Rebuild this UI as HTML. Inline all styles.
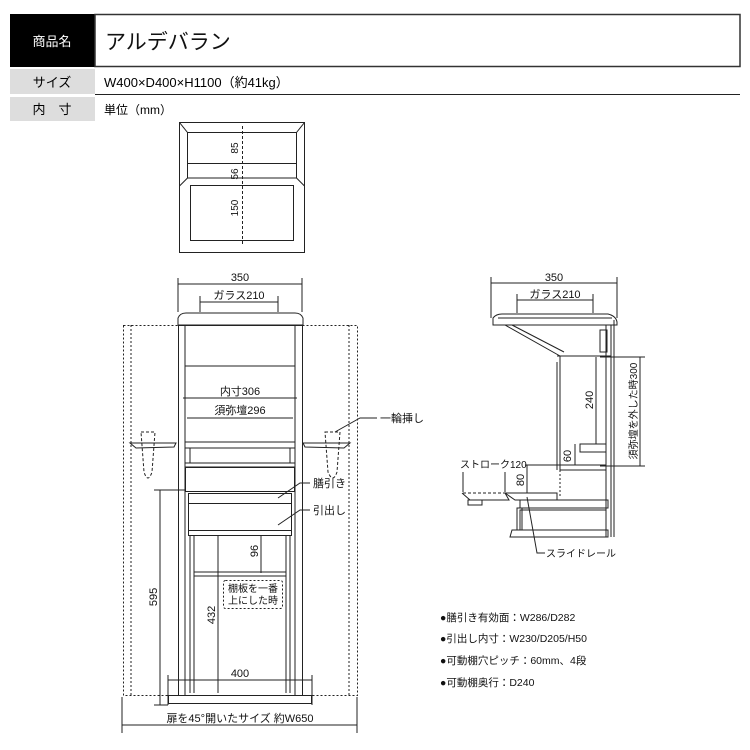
<!DOCTYPE html>
<html><head><meta charset="utf-8"><style>
html,body{margin:0;padding:0;background:#fff;}
svg{display:block;font-family:"Liberation Sans","Noto Sans CJK JP",sans-serif;}
</style></head><body>
<svg width="750" height="750" viewBox="0 0 750 750" xmlns="http://www.w3.org/2000/svg">
<!-- header -->
<rect x="10" y="14" width="85" height="53" fill="#000"/>
<rect x="95" y="14.5" width="645" height="52" fill="none" stroke="#333" stroke-width="1.5"/>
<text x="52" y="46" fill="#fff" font-size="13" text-anchor="middle">商品名</text>
<text x="105" y="49" font-size="21" fill="#111">アルデバラン</text>
<rect x="10" y="69" width="85" height="25" fill="#ddd"/>
<text x="52" y="87" font-size="13" text-anchor="middle">サイズ</text>
<text x="104" y="87" font-size="13">W400×D400×H1100（約41kg）</text>
<line x1="95" y1="94.5" x2="740" y2="94.5" stroke="#222" stroke-width="1"/>
<rect x="10" y="97" width="85" height="24" fill="#ddd"/>
<text x="52" y="114" font-size="13" text-anchor="middle">内　寸</text>
<text x="104" y="114" font-size="12">単位（mm）</text>

<g fill="none" stroke="#222" stroke-width="1">
<!-- top small drawing -->
<rect x="179.5" y="122.5" width="125" height="130"/>
<polyline points="179.5,122.5 187.5,132.5 187.5,178 179.5,186"/>
<polyline points="304.5,122.5 296.5,132.5 296.5,178 304.5,186"/>
<rect x="187.5" y="132.5" width="109" height="31"/>
<line x1="187.5" y1="178" x2="296.5" y2="178"/>
<rect x="190.5" y="185.5" width="103" height="55"/>
<line x1="242.5" y1="126" x2="242.5" y2="245" stroke-dasharray="3,2"/>
</g>
<g font-size="10" fill="#111">
<text transform="translate(238,148) rotate(-90)" text-anchor="middle">85</text>
<text transform="translate(238,174) rotate(-90)" text-anchor="middle">56</text>
<text transform="translate(238,208) rotate(-90)" text-anchor="middle">150</text>
</g>

<!-- front view -->
<g fill="none" stroke="#222" stroke-width="1">
<line x1="178" y1="284" x2="302" y2="284"/><line x1="178" y1="278" x2="178" y2="312"/><line x1="302" y1="278" x2="302" y2="312"/>
<line x1="200" y1="302" x2="278" y2="302"/><line x1="200" y1="296" x2="200" y2="312"/><line x1="278" y1="296" x2="278" y2="312"/>
<path d="M178,325 L178,318 Q180,313 186,313 L295,313 Q301,313 303,318 L303,325 Z"/>
<rect x="123.5" y="325.5" width="55" height="370" stroke-dasharray="2,2"/>
<line x1="131" y1="325" x2="131" y2="695" stroke-dasharray="2,2"/>
<rect x="302.5" y="325.5" width="55" height="370" stroke-dasharray="2,2"/>
<line x1="349" y1="325" x2="349" y2="695" stroke-dasharray="2,2"/>
<rect x="178.5" y="325.5" width="124" height="370"/>
<line x1="185" y1="325" x2="185" y2="695"/><line x1="295" y1="325" x2="295" y2="695"/>
<line x1="185" y1="366" x2="295" y2="366"/>
<line x1="183" y1="398" x2="297" y2="398"/>
<line x1="187" y1="418" x2="293" y2="418"/>
<rect x="185" y="442" width="110" height="6"/>
<rect x="190" y="448" width="100" height="15"/>
<rect x="185" y="463" width="110" height="4"/>
<path d="M130,443 L176,443 L174,447 L136,448 Z"/>
<path d="M303,443 L350,443 L344,448 L305,447 Z"/>
<path d="M141,432 L155,432 L152,472 Q148,484 144,472 Z" stroke-dasharray="3,2"/>
<path d="M325,432 L340,432 L337,472 Q333,484 328,472 Z" stroke-dasharray="3,2"/>
<rect x="185.5" y="467.5" width="109" height="24"/>
<rect x="188.5" y="493.5" width="103" height="10"/>
<rect x="188.5" y="503.5" width="103" height="27"/>
<rect x="188.5" y="530.5" width="103" height="5"/>
<line x1="190" y1="536" x2="190" y2="693"/><line x1="194" y1="536" x2="194" y2="693"/>
<line x1="290" y1="536" x2="290" y2="693"/><line x1="286" y1="536" x2="286" y2="693"/>
<line x1="194" y1="572" x2="286" y2="572"/><line x1="194" y1="576" x2="286" y2="576"/>
<rect x="223.5" y="580.5" width="59" height="28" stroke-dasharray="2,2" rx="2"/>
<line x1="261" y1="535" x2="261" y2="573"/>
<line x1="218" y1="535" x2="218" y2="693"/>
<line x1="160" y1="490" x2="160" y2="705"/><line x1="154" y1="490" x2="185" y2="490"/><line x1="154" y1="705" x2="168" y2="705"/>
<line x1="168" y1="680" x2="312" y2="680"/><line x1="168" y1="675" x2="168" y2="705"/><line x1="312" y1="675" x2="312" y2="705"/>
<rect x="168.5" y="695.5" width="143" height="8"/>
<line x1="122" y1="725" x2="357" y2="725"/><line x1="122" y1="697" x2="122" y2="733"/><line x1="357" y1="697" x2="357" y2="733"/>
<polyline points="335,432 360,418 377,418"/>
<polyline points="278,498 300,483 310,483"/>
<polyline points="278,525 300,510 310,510"/>
</g>
<g font-size="11" fill="#111" text-anchor="middle">
<text x="240" y="281">350</text>
<text x="239" y="299">ガラス210</text>
<text x="240" y="395">内寸306</text>
<text x="240" y="414">須弥壇296</text>
<text x="240" y="677">400</text>
<text x="240" y="722">扉を45°開いたサイズ 約W650</text>
<text transform="translate(258,551) rotate(-90)">96</text>
<text transform="translate(215,615) rotate(-90)">432</text>
<text transform="translate(157,597) rotate(-90)">595</text>
<text x="253" y="592" font-size="10">棚板を一番</text>
<text x="253" y="604" font-size="10">上にした時</text>
</g>
<g font-size="11" fill="#111">
<text x="380" y="422">一輪挿し</text>
<text x="313" y="487">膳引き</text>
<text x="313" y="514">引出し</text>
</g>

<!-- side view -->
<g fill="none" stroke="#222" stroke-width="1">
<line x1="491" y1="283" x2="617" y2="283"/><line x1="491" y1="277" x2="491" y2="318"/><line x1="617" y1="277" x2="617" y2="318"/>
<line x1="517" y1="300" x2="593" y2="300"/><line x1="517" y1="294" x2="517" y2="313"/><line x1="593" y1="294" x2="593" y2="313"/>
<path d="M493,325 L493,318 Q496,314 502,314 L608,314 Q616,316 617,322 L617,325 Z"/>
<line x1="498" y1="318" x2="612" y2="318"/>
<polyline points="505,325 560,356 560,470"/>
<polyline points="512,325 564,352"/>
<line x1="557" y1="362" x2="557" y2="470"/>
<line x1="606" y1="325" x2="606" y2="537"/><line x1="611" y1="325" x2="611" y2="537"/>
<line x1="614" y1="320" x2="614" y2="537"/>
<rect x="600" y="330" width="7" height="22"/>
<line x1="557" y1="356" x2="611" y2="356"/>
<line x1="596" y1="357" x2="596" y2="444"/>
<line x1="600" y1="357" x2="645" y2="357"/>
<line x1="640" y1="357" x2="640" y2="466"/><line x1="600" y1="466" x2="645" y2="466"/>
<rect x="580" y="444" width="26" height="8"/>
<line x1="575" y1="444" x2="575" y2="465"/>
<rect x="560" y="465" width="46" height="5"/>
<line x1="525" y1="465" x2="606" y2="465"/>
<line x1="527" y1="465" x2="527" y2="493"/>
<line x1="560" y1="470" x2="560" y2="497" stroke-dasharray="2,2"/>
<line x1="463" y1="472" x2="463" y2="492"/><line x1="505" y1="472" x2="505" y2="492"/>
<line x1="463" y1="493" x2="557" y2="493" stroke-dasharray="3,2"/>
<path d="M462,493 L470,500 L509,500 L505,493"/>
<rect x="468" y="500" width="14" height="5"/>
<path d="M505,493 L557,493 L557,500 L515,500 Z"/>
<rect x="520" y="500" width="88" height="8"/>
<rect x="517" y="508" width="5" height="22"/>
<rect x="520" y="510" width="86" height="20"/>
<path d="M510,537 L512,530 L608,530 L608,537 Z"/>
<polyline points="527,497 537,553 545,553"/>
</g>
<g font-size="11" fill="#111">
<text x="554" y="281" text-anchor="middle">350</text>
<text x="555" y="298" text-anchor="middle">ガラス210</text>
<text transform="translate(593,400) rotate(-90)" text-anchor="middle">240</text>
<text transform="translate(571,456) rotate(-90)" text-anchor="middle">60</text>
<text transform="translate(524,480) rotate(-90)" text-anchor="middle">80</text>
<text transform="translate(637,411) rotate(-90)" text-anchor="middle" font-size="10">須弥壇を外した時300</text>
<text x="460" y="468" font-size="10">ストローク120</text>
<text x="546" y="557" font-size="10">スライドレール</text>
</g>
<g font-size="10.5" fill="#111">
<text x="440" y="621">●膳引き有効面：W286/D282</text>
<text x="440" y="642">●引出し内寸：W230/D205/H50</text>
<text x="440" y="664">●可動棚穴ピッチ：60mm、4段</text>
<text x="440" y="686">●可動棚奥行：D240</text>
</g>
</svg>
</body></html>
